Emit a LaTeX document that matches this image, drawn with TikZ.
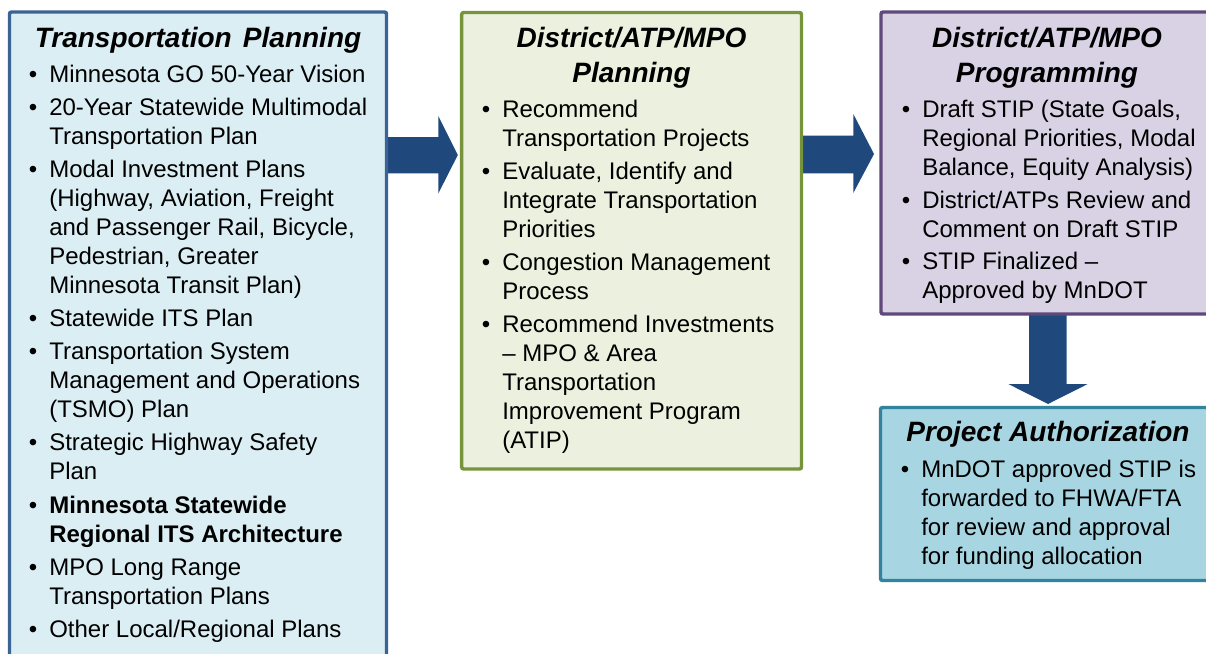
\documentclass[tikz,border=0pt]{standalone}
\usepackage{fontspec}
\setmainfont{Liberation Sans}
\definecolor{arrowc}{HTML}{1F497D}
\definecolor{bdblue}{HTML}{3A6496}
\definecolor{fblue}{HTML}{DBEEF4}
\definecolor{bdgreen}{HTML}{77933C}
\definecolor{fgreen}{HTML}{EBF1DE}
\definecolor{bdpurple}{HTML}{5F497A}
\definecolor{fpurple}{HTML}{D9D2E5}
\definecolor{bdteal}{HTML}{31849B}
\definecolor{fteal}{HTML}{A7D6E2}
\newcommand{\myitem}[4]{\node[body] (#1) at (#2,#3) {\llap{\textbullet\hspace{9pt}}\parbox[t]{250pt}{#4}};}
\begin{document}
\begin{tikzpicture}[x=0.75pt,y=-0.75pt,
  box/.style={line width=2.6pt, rounded corners=1.5pt},
  body/.style={inner sep=0pt, font=\fontsize{18pt}{21.75pt}\selectfont, anchor=base west},
  ttl/.style={inner sep=0pt, font=\fontsize{21pt}{26pt}\selectfont\bfseries\itshape, anchor=base},
  blockarrow/.style={fill=arrowc}]
\clip (0,0) rectangle (1206,653);
\fill[white] (0,0) rectangle (1206,653);
% block arrows
\fill[blockarrow] (386.5,137) -- (438.3,137) -- (438.3,116) -- (457.8,155) -- (438.3,193.5) -- (438.3,173.3) -- (386.5,173.3) -- cycle;
\fill[blockarrow] (801.5,135.5) -- (853.3,135.5) -- (853.3,114) -- (874,154) -- (853.3,193) -- (853.3,173.3) -- (801.5,173.3) -- cycle;
\fill[blockarrow] (1029,314) -- (1029,384) -- (1008.3,384) -- (1048,404) -- (1087.7,384) -- (1066.7,384) -- (1066.7,314) -- cycle;
% boxes
\draw[box, draw=bdblue, fill=fblue] (9.5,12) rectangle (386.5,670);
\draw[box, draw=bdgreen, fill=fgreen] (461.7,12.5) rectangle (801.5,469);
\draw[box, draw=bdpurple, fill=fpurple] (881,12) rectangle (1215,314);
\draw[box, draw=bdteal, fill=fteal] (880.5,407.5) rectangle (1215,580.5);
% left box
\node[ttl] (t1) at (198,47) {Transportation\hspace{0.4em}Planning};
\myitem{l1}{49}{82}{Minnesota GO 50-Year Vision}
\myitem{l2}{49}{115}{20-Year Statewide Multimodal\\Transportation Plan}
\myitem{l3}{49}{177}{Modal Investment Plans\\(Highway, Aviation, Freight\\and Passenger Rail, Bicycle,\\Pedestrian, Greater\\Minnesota Transit Plan)}
\myitem{l4}{49}{326}{Statewide ITS Plan}
\myitem{l5}{49}{359}{Transportation System\\Management and Operations\\(TSMO) Plan}
\myitem{l6}{49}{450}{Strategic Highway Safety\\Plan}
\myitem{l7}{49}{513}{\bfseries Minnesota Statewide\\Regional ITS Architecture}
\myitem{l8}{49}{575}{MPO Long Range\\Transportation Plans}
\myitem{l9}{49}{637}{Other Local/Regional Plans}
% green box
\node[ttl] (t2a) at (631.5,47) {District/ATP/MPO};
\node[ttl] (t2b) at (631.5,82) {Planning};
\myitem{g1}{502}{117}{Recommend\\Transportation Projects}
\myitem{g2}{502}{179}{Evaluate, Identify and\\Integrate Transportation\\Priorities}
\myitem{g3}{502}{270.5}{Congestion Management\\Process}
\myitem{g4}{502}{332.5}{Recommend Investments\\– MPO \& Area\\Transportation\\Improvement Program\\(ATIP)}
% purple box
\node[ttl] (t3a) at (1047,47) {District/ATP/MPO};
\node[ttl] (t3b) at (1047,82) {Programming};
\myitem{p1}{922}{117}{Draft STIP (State Goals,\\Regional Priorities, Modal\\Balance, Equity Analysis)}
\myitem{p2}{922}{208}{District/ATPs Review and\\Comment on Draft STIP}
\myitem{p3}{922}{269.5}{STIP Finalized –\\Approved by MnDOT}
% teal box
\node[ttl] (t4) at (1048,441) {Project Authorization};
\myitem{a1}{921}{477}{MnDOT approved STIP is\\forwarded to FHWA/FTA\\for review and approval\\for funding allocation}
\end{tikzpicture}
\end{document}
